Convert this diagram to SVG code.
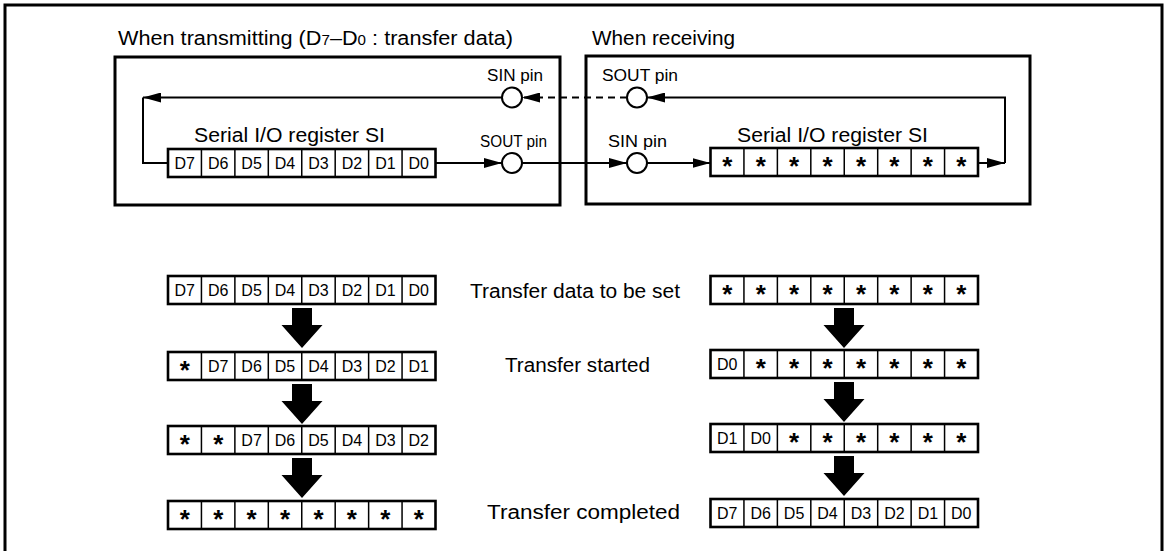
<svg xmlns="http://www.w3.org/2000/svg" xmlns:xlink="http://www.w3.org/1999/xlink" width="1165" height="551" viewBox="0 0 1165 551">
<style>
.lbl{font-family:"Liberation Sans",Arial,sans-serif;font-size:20px;fill:#000}
.pin{font-family:"Liberation Sans",Arial,sans-serif;font-size:16px;fill:#000}
.cell{font-family:"Liberation Sans",Arial,sans-serif;font-size:16px;fill:#000;text-anchor:middle}
.star{font-family:"Liberation Sans",Arial,sans-serif;font-size:26px;font-weight:bold;fill:#000;text-anchor:middle}
.box{fill:none;stroke:#000;stroke-width:3}
.regbox{fill:#fff;stroke:#000;stroke-width:2.6}
.div{fill:none;stroke:#000;stroke-width:1.5}
.wire{fill:none;stroke:#000;stroke-width:2}
.dash{stroke-dasharray:7 5}
.pinc{fill:#fff;stroke:#000;stroke-width:2}
.big{fill:#000}
</style>
<defs>
<marker id="ah" viewBox="0 0 18 10" refX="18" refY="5" markerWidth="18" markerHeight="10" markerUnits="userSpaceOnUse" orient="auto">
<path d="M0,0 L18,5 L0,10 Z" fill="#000"/>
</marker>
<g id="reg">
<rect x="0" y="0" width="267.5" height="28" class="regbox"/>
<path class="div" d="M33.44,0v28M66.88,0v28M100.31,0v28M133.75,0v28M167.19,0v28M200.63,0v28M234.06,0v28"/>
</g>
<path id="bigarrow" d="M-10,0 H10 V17 H20.5 L0,40 L-20.5,17 H-10 Z"/>
</defs>
<rect x="0" y="0" width="1165" height="551" fill="#fff"/>
<path id="frame" class="box" d="M5,553 V5 H1162 V553"/>

<g id="transmit-box">
<rect x="115" y="57" width="445" height="148" class="box"/>
<text class="lbl" x="118" y="45" textLength="395" lengthAdjust="spacingAndGlyphs">When transmitting  (D<tspan font-size="14">7</tspan>–D<tspan font-size="14">0</tspan> : transfer data)</text>
</g>
<g id="receive-box">
<rect x="586" y="56" width="444" height="148" class="box"/>
<text class="lbl" x="592" y="45" textLength="143" lengthAdjust="spacingAndGlyphs">When receiving</text>
</g>

<g id="connectors">
<path class="wire" d="M502,97.5 H143" marker-end="url(#ah)"/>
<path class="wire" d="M143,97.5 V163 H168"/>
<path class="wire" d="M435.5,163 H502" marker-end="url(#ah)"/>
<path class="wire" d="M522,163 H627" marker-end="url(#ah)"/>
<path class="wire" d="M647,163 H710.5" marker-end="url(#ah)"/>
<path class="wire" d="M978,163 H1005" marker-end="url(#ah)"/>
<path class="wire" d="M1005,163 V97.5 H647" marker-end="url(#ah)"/>
<path class="wire dash" d="M627,97.5 H522" marker-end="url(#ah)"/>
</g>

<g id="tx-sin-pin">
<circle cx="512" cy="97.5" r="10" class="pinc"/>
<text class="pin" x="487" y="81" textLength="56" lengthAdjust="spacingAndGlyphs">SIN pin</text>
</g>
<g id="tx-sout-pin">
<circle cx="512" cy="163" r="10" class="pinc"/>
<text class="pin" x="480" y="147" textLength="67" lengthAdjust="spacingAndGlyphs">SOUT pin</text>
</g>
<g id="rx-sout-pin">
<circle cx="637" cy="97.5" r="10" class="pinc"/>
<text class="pin" x="602" y="81" textLength="76" lengthAdjust="spacingAndGlyphs">SOUT pin</text>
</g>
<g id="rx-sin-pin">
<circle cx="637" cy="163" r="10" class="pinc"/>
<text class="pin" x="608" y="147" textLength="59" lengthAdjust="spacingAndGlyphs">SIN pin</text>
</g>

<g id="tx-register">
<text class="lbl" x="194" y="142" textLength="191" lengthAdjust="spacingAndGlyphs">Serial I/O register SI</text>
<use xlink:href="#reg" x="168" y="149"/>
<text class="cell" y="169"><tspan x="184.7">D7</tspan><tspan x="218.2">D6</tspan><tspan x="251.6">D5</tspan><tspan x="285">D4</tspan><tspan x="318.5">D3</tspan><tspan x="351.9">D2</tspan><tspan x="385.4">D1</tspan><tspan x="418.8">D0</tspan></text>
</g>
<g id="rx-register">
<text class="lbl" x="737" y="142" textLength="191" lengthAdjust="spacingAndGlyphs">Serial I/O register SI</text>
<use xlink:href="#reg" x="710.5" y="148"/>
<text class="star" y="175"><tspan x="727.2">*</tspan><tspan x="760.7">*</tspan><tspan x="794.1">*</tspan><tspan x="827.5">*</tspan><tspan x="861">*</tspan><tspan x="894.4">*</tspan><tspan x="927.9">*</tspan><tspan x="961.3">*</tspan></text>
</g>

<g id="tx-step1">
<use xlink:href="#reg" x="168" y="276"/>
<text class="cell" y="296"><tspan x="184.7">D7</tspan><tspan x="218.2">D6</tspan><tspan x="251.6">D5</tspan><tspan x="285">D4</tspan><tspan x="318.5">D3</tspan><tspan x="351.9">D2</tspan><tspan x="385.4">D1</tspan><tspan x="418.8">D0</tspan></text>
</g>
<g id="tx-step2">
<use xlink:href="#reg" x="168" y="352"/>
<text class="star" y="379"><tspan x="184.7">*</tspan></text>
<text class="cell" y="372"><tspan x="218.2">D7</tspan><tspan x="251.6">D6</tspan><tspan x="285">D5</tspan><tspan x="318.5">D4</tspan><tspan x="351.9">D3</tspan><tspan x="385.4">D2</tspan><tspan x="418.8">D1</tspan></text>
</g>
<g id="tx-step3">
<use xlink:href="#reg" x="168" y="426"/>
<text class="star" y="453"><tspan x="184.7">*</tspan><tspan x="218.2">*</tspan></text>
<text class="cell" y="446"><tspan x="251.6">D7</tspan><tspan x="285">D6</tspan><tspan x="318.5">D5</tspan><tspan x="351.9">D4</tspan><tspan x="385.4">D3</tspan><tspan x="418.8">D2</tspan></text>
</g>
<g id="tx-step4">
<use xlink:href="#reg" x="168" y="501"/>
<text class="star" y="528"><tspan x="184.7">*</tspan><tspan x="218.2">*</tspan><tspan x="251.6">*</tspan><tspan x="285">*</tspan><tspan x="318.5">*</tspan><tspan x="351.9">*</tspan><tspan x="385.4">*</tspan><tspan x="418.8">*</tspan></text>
</g>

<g id="rx-step1">
<use xlink:href="#reg" x="710.5" y="276"/>
<text class="star" y="303"><tspan x="727.2">*</tspan><tspan x="760.7">*</tspan><tspan x="794.1">*</tspan><tspan x="827.5">*</tspan><tspan x="861">*</tspan><tspan x="894.4">*</tspan><tspan x="927.9">*</tspan><tspan x="961.3">*</tspan></text>
</g>
<g id="rx-step2">
<use xlink:href="#reg" x="710.5" y="350"/>
<text class="cell" y="370"><tspan x="727.2">D0</tspan></text>
<text class="star" y="377"><tspan x="760.7">*</tspan><tspan x="794.1">*</tspan><tspan x="827.5">*</tspan><tspan x="861">*</tspan><tspan x="894.4">*</tspan><tspan x="927.9">*</tspan><tspan x="961.3">*</tspan></text>
</g>
<g id="rx-step3">
<use xlink:href="#reg" x="710.5" y="424"/>
<text class="cell" y="444"><tspan x="727.2">D1</tspan><tspan x="760.7">D0</tspan></text>
<text class="star" y="451"><tspan x="794.1">*</tspan><tspan x="827.5">*</tspan><tspan x="861">*</tspan><tspan x="894.4">*</tspan><tspan x="927.9">*</tspan><tspan x="961.3">*</tspan></text>
</g>
<g id="rx-step4">
<use xlink:href="#reg" x="710.5" y="499"/>
<text class="cell" y="519"><tspan x="727.2">D7</tspan><tspan x="760.7">D6</tspan><tspan x="794.1">D5</tspan><tspan x="827.5">D4</tspan><tspan x="861">D3</tspan><tspan x="894.4">D2</tspan><tspan x="927.9">D1</tspan><tspan x="961.3">D0</tspan></text>
</g>

<g id="step-arrows" class="big">
<use xlink:href="#bigarrow" x="302" y="308"/>
<use xlink:href="#bigarrow" x="302" y="384"/>
<use xlink:href="#bigarrow" x="302" y="458"/>
<use xlink:href="#bigarrow" x="844" y="308"/>
<use xlink:href="#bigarrow" x="844" y="382"/>
<use xlink:href="#bigarrow" x="844" y="456"/>
</g>

<g id="step-labels">
<text class="lbl" x="470" y="298" textLength="210" lengthAdjust="spacingAndGlyphs">Transfer data to be set</text>
<text class="lbl" x="505" y="372" textLength="145" lengthAdjust="spacingAndGlyphs">Transfer started</text>
<text class="lbl" x="487" y="519" textLength="193" lengthAdjust="spacingAndGlyphs">Transfer completed</text>
</g>
</svg>
